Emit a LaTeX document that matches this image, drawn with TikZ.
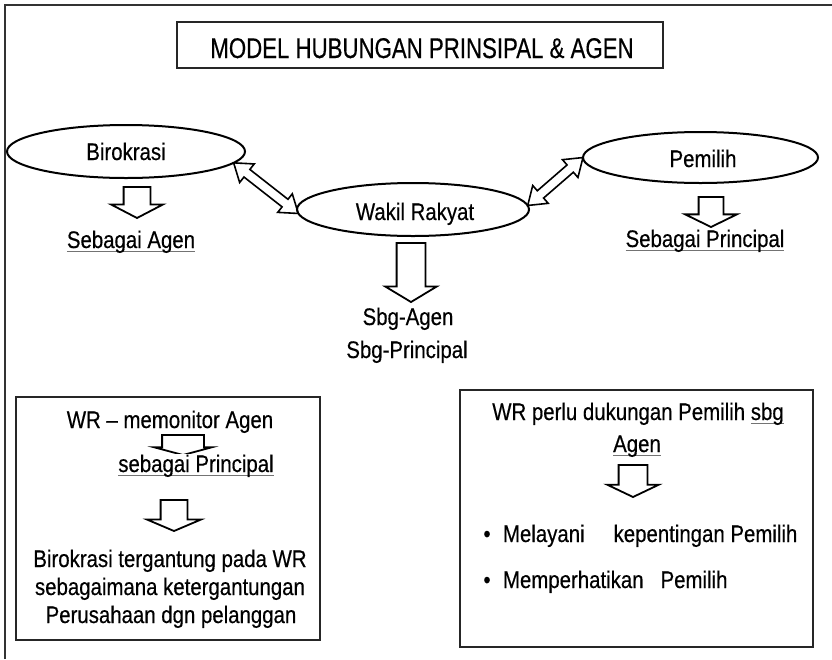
\documentclass[tikz,border=0pt]{standalone}
\usepackage{fontspec}
\setmainfont{Liberation Sans}[FakeStretch=0.85, FakeBold=0.4]
\newfontfamily\titlefont{Liberation Sans}[FakeStretch=0.78, FakeBold=0.4]
\usetikzlibrary{shapes.geometric,shapes.arrows,calc}

% underline that sits just under the baseline
\newsavebox\ulbox
\newcommand\ulin[1]{\sbox\ulbox{#1}\rlap{\color{black!55}\rule[-4pt]{\wd\ulbox}{1.1pt}}\usebox\ulbox}

% hollow two-headed arrow between two border points
\newcommand\linkarrow[3]{%
  \path let \p1=(#2), \p2=(#3),
    \n1={atan2(\y2-\y1,\x2-\x1)}, \n2={veclen(\x2-\x1,\y2-\y1)} in
    node[linkarr, rotate=\n1, minimum height=\n2] (#1) at ($(\p1)!0.5!(\p2)$) {};}

\tikzset{
  every node/.style={inner sep=0pt, outer sep=0pt},
  txt/.style={anchor=base, text=black, font=\fontsize{24}{28}\selectfont},
  ttl/.style={anchor=base, text=black, font=\titlefont\fontsize{28.5}{32}\selectfont},
  frame/.style={draw=black!80, line width=2.4pt},
  panel/.style={draw=black!85, line width=2.2pt, rectangle},
  oval/.style={draw=black, line width=2pt, ellipse},
  blockarr/.style={draw=black, line width=1.8pt, single arrow, rotate=-90,
    inner xsep=0pt, anchor=tip},
  linkarr/.style={draw=black, line width=1.6pt, double arrow, inner xsep=0pt,
    inner ysep=4pt, double arrow head extend=7pt, double arrow tip angle=70},
}

\begin{document}
\begin{tikzpicture}[x=1pt,y=-1pt]
\useasboundingbox (0,0) rectangle (832,659);

% outer frame (top and left edges)
\draw[frame] (5,659) -- (5,5) -- (832,5);

% title
\node[panel, minimum width=486, minimum height=46] (titlebox) at (420,45) {};
\node[ttl] (title) at (422,58) {MODEL HUBUNGAN PRINSIPAL \& AGEN};

% the three actors
\node[oval, minimum width=238, minimum height=53] (biro) at (126,151.5) {};
\node[oval, minimum width=232, minimum height=53] (wr) at (413,209.5) {};
\node[oval, minimum width=235, minimum height=51] (pem) at (700.5,157.5) {};
\node[txt] (birotxt) at (126,160) {Birokrasi};
\node[txt] (wrtxt) at (415,220) {Wakil Rakyat};
\node[txt] (pemtxt) at (703,167) {Pemilih};

% links between actors
\linkarrow{lk1}{biro.-6}{wr.182}
\linkarrow{lk2}{wr.2}{pem.180}

% roles
\node[blockarr, inner ysep=12.5pt, single arrow head extend=12.5pt,
  single arrow tip angle=125, minimum height=31] (a1) at (137,218) {};
\node[txt] (agen) at (131,248) {\ulin{Sebagai Agen}};

\node[blockarr, inner ysep=13.5pt, single arrow head extend=11.5pt,
  single arrow tip angle=118, minimum height=59] (a2) at (411,302) {};
\node[txt] (sbg1) at (408,325) {Sbg-Agen};
\node[txt] (sbg2) at (407,358) {Sbg-Principal};

\node[blockarr, inner ysep=11.5pt, single arrow head extend=13.5pt,
  single arrow tip angle=128, minimum height=30] (a3) at (711,227) {};
\node[txt] (princ) at (705,247) {\ulin{Sebagai Principal}};

% left panel
\node[panel, minimum width=304, minimum height=243] (lbox) at (168,518.5) {};
\node[txt] (l1) at (170,428) {WR -- memonitor Agen};
\node[blockarr, inner ysep=20pt, single arrow head extend=8pt,
  single arrow tip angle=150, minimum height=20] (a4) at (183,455) {};
\node[txt, fill=white, inner ysep=1pt] (l2) at (196,472) {\ulin{sebagai Principal}};
\node[blockarr, inner ysep=12.5pt, single arrow head extend=13.5pt,
  single arrow tip angle=134, minimum height=31] (a5) at (174,531) {};
\node[txt] (l3) at (170,567) {Birokrasi tergantung pada WR};
\node[txt] (l4) at (170,595) {sebagaimana ketergantungan};
\node[txt] (l5) at (171,623) {Perusahaan dgn pelanggan};

% right panel
\node[panel, minimum width=353, minimum height=257] (rbox) at (636.5,518.5) {};
\node[txt] (r1) at (638,420) {WR perlu dukungan Pemilih \ulin{sbg}};
\node[txt] (r2) at (637,452) {\ulin{Agen}};
\node[blockarr, inner ysep=13.5pt, single arrow head extend=11.5pt,
  single arrow tip angle=129, minimum height=32] (a6) at (633,497) {};
\node[txt] (b1) at (487,542) {\textbullet};
\node[txt, anchor=base west] (r3) at (503,542) {Melayani\hspace*{29pt}kepentingan Pemilih};
\node[txt] (b2) at (487,588) {\textbullet};
\node[txt, anchor=base west] (r4) at (503,588) {Memperhatikan\hspace*{17pt}Pemilih};
\end{tikzpicture}
\end{document}
